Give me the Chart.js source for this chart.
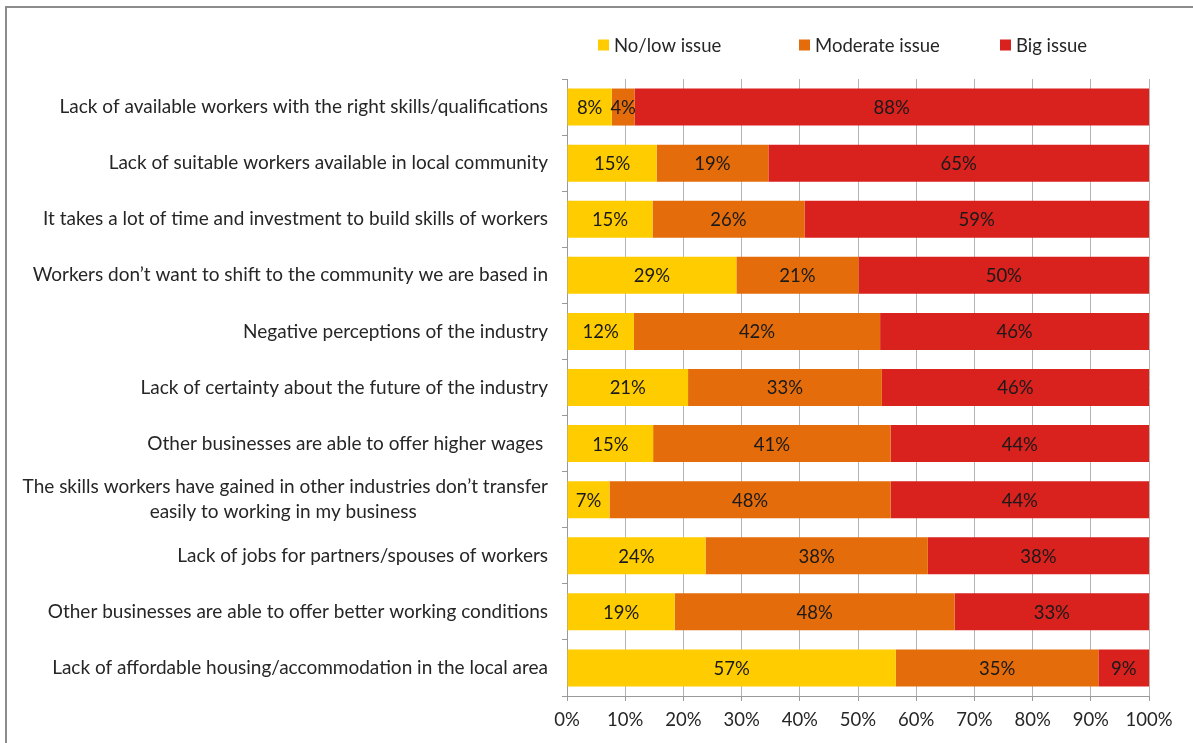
<!DOCTYPE html>
<html>
<head>
<meta charset="utf-8">
<script src="https://cdn.jsdelivr.net/npm/chart.js@4.4.1/dist/chart.umd.min.js"></script>
<style>
  html, body { margin: 0; padding: 0; background: #fff; }
  #wrap { position: relative; width: 1193px; height: 743px; overflow: hidden; }
  #frame {
    position: absolute; left: 5px; top: 6px; right: -10px; bottom: -10px;
    border-top: 2px solid #8c8c8c; border-left: 2px solid #8c8c8c;
    pointer-events: none;
  }
  canvas { position: absolute; left: 0; top: 0; }
</style>
</head>
<body>
<div id="wrap">
  <canvas id="chart" width="1193" height="743"></canvas>
  <div id="frame"></div>
</div>
<script>
const FONT = 'Lato, "Open Sans", sans-serif'
const TEXT = '#262626'

const categories = [
  "Lack of available workers with the right skills/qualifications",
  "Lack of suitable workers available in local community",
  "It takes a lot of time and investment to build skills of workers",
  "Workers don\u2019t want to shift to the community we are based in",
  "Negative perceptions of the industry",
  "Lack of certainty about the future of the industry",
  "Other businesses are able to offer higher wages ",
  ["The skills workers have gained in other industries don\u2019t transfer", "easily to working in my business"],
  "Lack of jobs for partners/spouses of workers",
  "Other businesses are able to offer better working conditions",
  "Lack of affordable housing/accommodation in the local area"
]

const seriesNames = ["No/low issue", "Moderate issue", "Big issue"]
const seriesColors = ["#FFCC00", "#E46C0A", "#D9211E"]

// shares in % (labels show them rounded)
const noLowIssue    = [7.7, 15.4, 14.7, 29.1, 11.5, 20.8, 14.8,  7.3, 23.8, 18.5, 56.5]
const moderateIssue = [3.9, 19.2, 26.1, 21.0, 42.3, 33.3, 40.8, 48.3, 38.2, 48.1, 34.8]
const bigIssue      = [88.4, 65.4, 59.2, 49.9, 46.2, 45.9, 44.4, 44.4, 38.0, 33.4, 8.7]

const xTicks = [0, 10, 20, 30, 40, 50, 60, 70, 80, 90, 100]

const labelFontSize = 19
const smallFontSize = 18.5

// Excel centres the second line of a wrapped label under the first one;
// Chart.js right-aligns every line, so pad the short line with spaces.
function centreWrapped(label) {
  if (!Array.isArray(label)) return label
  const ctx = document.createElement('canvas').getContext('2d')
  ctx.font = labelFontSize + 'px ' + FONT
  const w0 = ctx.measureText(label[0]).width
  const sp = ctx.measureText(' ').width
  return label.map((line, i) => {
    if (i === 0) return line
    const gap = (w0 - ctx.measureText(line).width) / 2
    return line + ' '.repeat(Math.max(0, Math.round(gap / sp)))
  })
}

const valueLabels = {
  id: 'valueLabels',
  afterDatasetsDraw(chart) {
    const ctx = chart.ctx
    ctx.save()
    ctx.font = smallFontSize + 'px ' + FONT
    ctx.fillStyle = '#1a1a1a'
    ctx.textAlign = 'center'
    ctx.textBaseline = 'middle'
    chart.data.datasets.forEach((ds, di) => {
      chart.getDatasetMeta(di).data.forEach((bar, i) => {
        ctx.fillText(Math.round(ds.data[i]) + '%', (bar.x + bar.base) / 2, bar.y + 1)
      })
    })
    ctx.restore()
  }
}

// legend in equal slots above the plot area, like Excel does
const slotLegend = {
  id: 'slotLegend',
  afterDraw(chart) {
    const ctx = chart.ctx
    const area = chart.chartArea
    const slot = 201, box = 11
    ctx.save()
    ctx.font = smallFontSize + 'px ' + FONT
    ctx.textBaseline = 'middle'
    let x = (area.left + area.right) / 2 - 260
    const y = 45
    seriesNames.forEach((name, i) => {
      ctx.fillStyle = seriesColors[i]
      ctx.fillRect(x, y - box / 2, box, box)
      ctx.fillStyle = TEXT
      ctx.fillText(name, x + box + 5, y + 1)
      x += slot
    })
    ctx.restore()
  }
}

const seriesData = [noLowIssue, moderateIssue, bigIssue]

new Chart(document.getElementById('chart'), {
  type: 'bar',
  data: {
    labels: categories.map(centreWrapped),
    datasets: seriesNames.map((name, i) => ({
      label: name,
      data: seriesData[i],
      backgroundColor: seriesColors[i],
      borderWidth: 0,
      categoryPercentage: 1,
      barPercentage: 0.66
    }))
  },
  options: {
    indexAxis: 'y',
    responsive: false,
    animation: false,
    layout: { padding: { left: 10, right: 44, top: 79, bottom: 7 } },
    plugins: {
      legend: { display: false },
      tooltip: { enabled: false }
    },
    scales: {
      x: {
        stacked: true,
        min: 0,
        max: 100,
        afterBuildTicks: s => { s.ticks = xTicks.map(v => ({ value: v })) },
        afterFit: s => { s.height = 40 },
        grid: { color: '#b4b4b4', tickLength: 5, tickColor: '#9a9a9a' },
        border: { color: '#9a9a9a' },
        ticks: {
          padding: 8,
          color: TEXT,
          font: { family: FONT, size: smallFontSize },
          callback: v => v + '%'
        }
      },
      y: {
        stacked: true,
        afterFit: s => { s.width = 557 },
        grid: { drawOnChartArea: false, tickLength: 5, color: '#9a9a9a' },
        border: { color: '#9a9a9a' },
        ticks: {
          padding: 14,
          color: TEXT,
          font: { family: FONT, size: labelFontSize, lineHeight: 1.3 }
        }
      }
    }
  },
  plugins: [valueLabels, slotLegend]
})
</script>
</body>
</html>
